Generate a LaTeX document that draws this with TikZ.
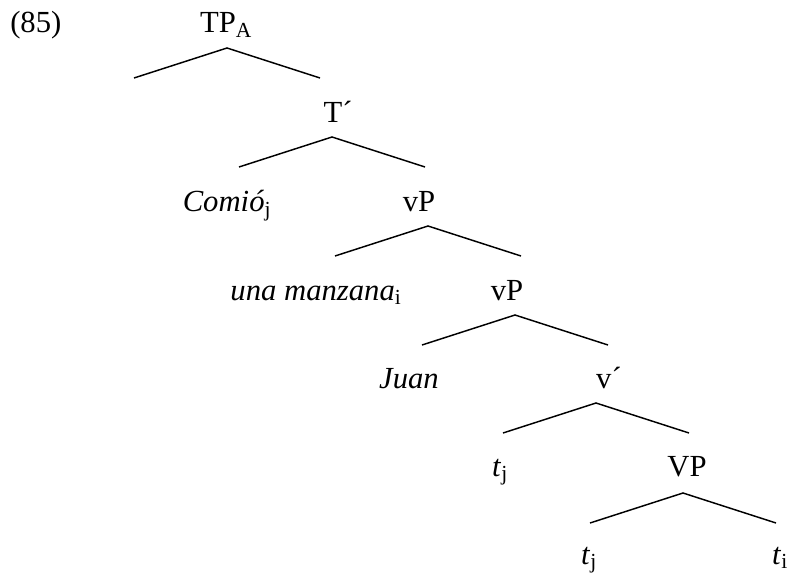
\documentclass[tikz,border=0pt]{standalone}
\usepackage{fontspec}
\setmainfont{Liberation Serif}
\usepackage{tikz}
\usetikzlibrary{positioning,calc}

\tikzset{
    lbl/.style={inner sep=0pt, anchor=base},
    branch/.style={line width=1.1pt}
}

\begin{document}
\begin{tikzpicture}[x=0.75pt, y=-0.75pt, font=\fontsize{23}{27}\selectfont]
    \useasboundingbox (0,0) rectangle (787,573);

    % example number
    \node[lbl, anchor=base west] (exnum) at (10,33) {(85)};

    % tree labels
    \node[lbl] (tp)    at (226,33)  {TP\textsubscript{A}};
    \node[lbl] (tbar)  at (338,123) {T´};
    \node[lbl] (comio) at (227,212) {\textit{Comió}\textsubscript{j}};
    \node[lbl] (vpa)   at (419,212) {vP};
    \node[lbl] (obj)   at (316,300) {\textit{una manzana}\textsubscript{i}};
    \node[lbl] (vpb)   at (507,300) {vP};
    \node[lbl] (juan)  at (409,388) {\textit{Juan}};
    \node[lbl] (vbar)  at (609,388) {v´};
    \node[lbl] (tja)   at (500,476) {\textit{t}\textsubscript{j}};
    \node[lbl] (vpc)   at (687,476) {VP};
    \node[lbl] (tjb)   at (589,564) {\textit{t}\textsubscript{j}};
    \node[lbl] (ti)    at (780,564) {\textit{t}\textsubscript{i}};

    % branch points below each mother
    \coordinate (tpA)   at (227,48);
    \coordinate (tbarA) at (332,137);
    \coordinate (vpaA)  at (428,226);
    \coordinate (vpbA)  at (515,315);
    \coordinate (vbarA) at (596,403);
    \coordinate (vpcA)  at (683,493);

    % branches
    \foreach \m in {tpA,tbarA,vpaA,vpbA,vbarA,vpcA}
        \draw[branch] ($(\m)+(-93,30)$) -- (\m) -- ($(\m)+(93,30)$);
\end{tikzpicture}
\end{document}
